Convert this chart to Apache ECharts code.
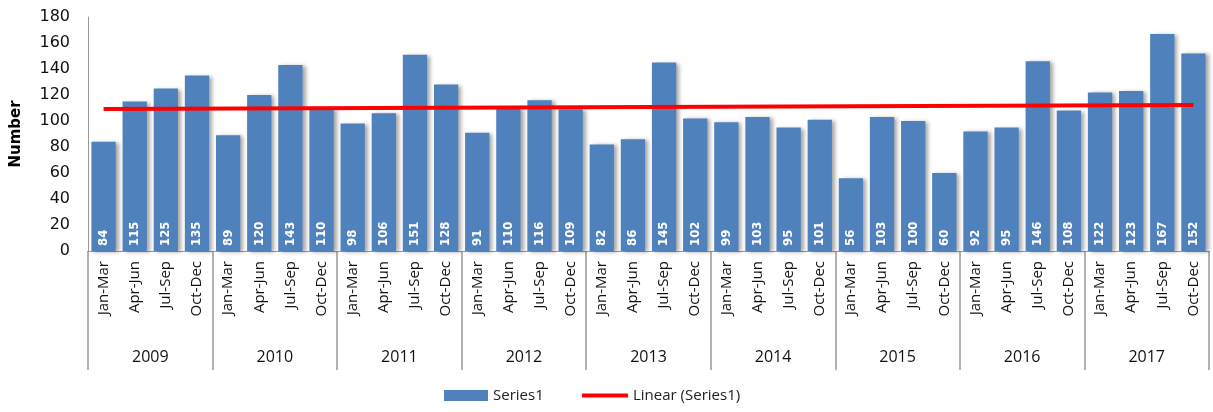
<!DOCTYPE html>
<html><head><meta charset="utf-8">
<script src="https://cdn.jsdelivr.net/npm/echarts@6/dist/echarts.min.js"></script>
<style>html,body{margin:0;padding:0;background:#fff}#c{width:1213px;height:412px}</style>
</head><body><div id="c"></div>
<script>
const years = ['2009','2010','2011','2012','2013','2014','2015','2016','2017'];
const quarters = ['Jan-Mar','Apr-Jun','Jul-Sep','Oct-Dec'];
const values = [84,115,125,135, 89,120,143,110, 98,106,151,128, 91,110,116,109,
                82,86,145,102, 99,103,95,101, 56,103,100,60, 92,95,146,108, 122,123,167,152];
const trendEnds = [109.2, 112.3];
const yTicks = [0,20,40,60,80,100,120,140,160,180];

const categories = [];
years.forEach(y => quarters.forEach(q => categories.push(q)));
const n = categories.length;

const legendText = {fontFamily: 'Open Sans, Noto Sans', fontSize: 15, color: '#222'};
const chart = echarts.init(document.getElementById('c'));
chart.setOption({
  animation: false,
  grid: {left: 88, right: 4, top: 17, bottom: 161},
  legend: [{
    left: 444, top: 388, padding: 0, itemWidth: 44, itemHeight: 11,
    textStyle: legendText,
    data: [{name: 'Series1', icon: 'rect'}]
  }, {
    left: 582, top: 388, padding: 0, itemWidth: 46, itemHeight: 4,
    textStyle: legendText,
    data: [{name: 'Linear (Series1)', icon: 'rect'}]
  }],
  xAxis: [{
    type: 'category', data: categories, position: 'bottom',
    axisLine: {lineStyle: {color: '#999'}},
    axisTick: {show: false},
    axisLabel: {rotate: 90, interval: 0, margin: 10, color: '#111', fontSize: 15, fontFamily: 'Open Sans, Noto Sans'}
  }, {
    type: 'category', data: years, position: 'bottom',
    axisLine: {show: true, lineStyle: {color: '#999'}},
    axisTick: {show: true, length: 119, lineStyle: {color: '#999', width: 1.5}},
    axisLabel: {margin: 98, color: '#111', fontSize: 16, fontFamily: 'Open Sans, Noto Sans'}
  }],
  yAxis: {
    type: 'value', min: 0, max: 180, interval: 20,
    name: 'Number', nameLocation: 'middle', nameGap: 64, nameRotate: 90,
    nameTextStyle: {fontWeight: 'bold', fontSize: 15, color: '#000', fontFamily: 'DejaVu Sans'},
    axisLine: {show: true, lineStyle: {color: '#999'}},
    axisTick: {show: false},
    splitLine: {show: false},
    axisLabel: {margin: 18, color: '#111', fontSize: 16, fontFamily: 'DejaVu Sans',
      formatter: v => yTicks.includes(v) ? String(v) : ''}
  },
  series: [{
    name: 'Series1', type: 'bar', data: values, barCategoryGap: '22%',
    itemStyle: {color: '#4F81BD', shadowColor: 'rgba(0,0,0,0.35)', shadowBlur: 4, shadowOffsetX: 3, shadowOffsetY: 1},
    label: {show: true, position: 'insideBottom', rotate: 90, align: 'left', verticalAlign: 'middle',
      distance: 5, color: '#fff', fontWeight: 'bold', fontSize: 13,
      fontFamily: 'DejaVu Sans Condensed, Liberation Sans Narrow, Liberation Sans'}
  }, {
    name: 'Linear (Series1)', type: 'line', symbol: 'none',
    data: [[0, trendEnds[0]], [n - 1, trendEnds[1]]],
    lineStyle: {color: '#FF0000', width: 4},
    itemStyle: {color: '#FF0000'}
  }]
});
</script></body></html>
